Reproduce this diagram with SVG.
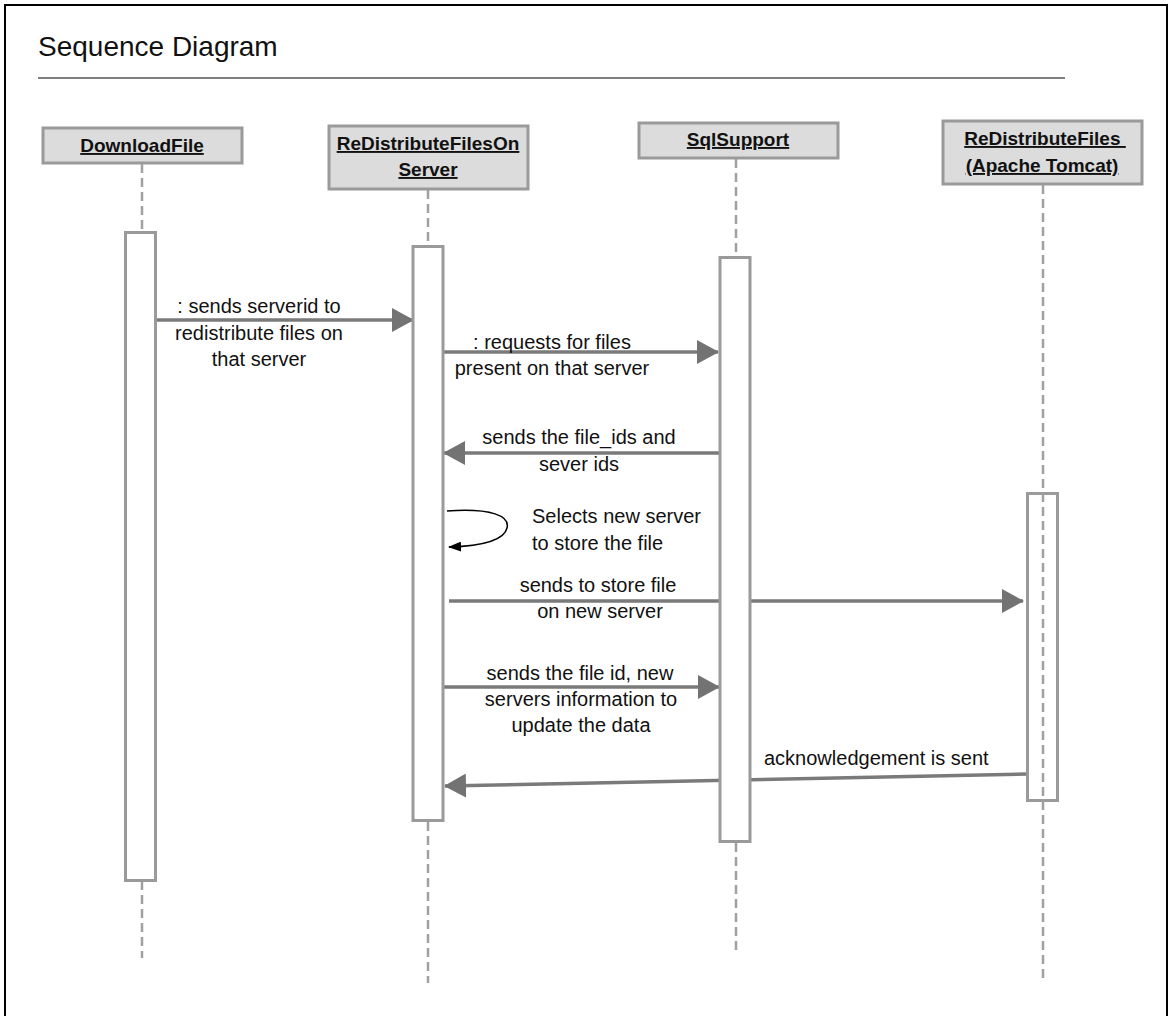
<svg xmlns="http://www.w3.org/2000/svg" width="1173" height="1016" viewBox="0 0 1173 1016">
<style>
.frame{fill:none;stroke:#000;stroke-width:2}
.title{font-family:"Liberation Sans",Arial,sans-serif;font-size:28px;fill:#111}
.head{fill:#dcdcdc;stroke:#9a9a9a;stroke-width:3}
.htxt{font-family:"Liberation Sans",Arial,sans-serif;font-size:19px;font-weight:bold;fill:#111;text-anchor:middle;text-decoration:underline}
.life{stroke:#a0a0a0;stroke-width:2.5;stroke-dasharray:9,5;fill:none}
.act{fill:#fff;stroke:#9a9a9a;stroke-width:3}
.msg{stroke:#7a7a7a;stroke-width:3.5;fill:none}
.lbl{font-family:"Liberation Sans",Arial,sans-serif;font-size:20px;fill:#111}
.mid{text-anchor:middle}
</style>
<defs>
<marker id="arr" markerUnits="userSpaceOnUse" viewBox="0 0 22 24" refX="21" refY="12" markerWidth="22" markerHeight="24" orient="auto">
<path d="M0,0 L22,12 L0,24 z" fill="#737373"/>
</marker>
<marker id="arrs" markerUnits="userSpaceOnUse" viewBox="0 0 13 10" refX="12" refY="5" markerWidth="13" markerHeight="10" orient="auto">
<path d="M0,0 L13,5 L0,10 z" fill="#000"/>
</marker>
</defs>
<rect width="1173" height="1016" fill="#fff"/>
<path class="frame" d="M5,1020 V5 H1167 V1020"/>
<text class="title" x="38" y="56">Sequence Diagram</text>
<line x1="38" y1="78" x2="1065" y2="78" stroke="#555" stroke-width="1.5"/>

<g id="connectors">
<line class="msg" x1="156" y1="320" x2="413" y2="320" marker-end="url(#arr)"/>
<line class="msg" x1="443" y1="352" x2="718" y2="352" marker-end="url(#arr)"/>
<line class="msg" x1="719" y1="453" x2="444" y2="453" marker-end="url(#arr)"/>
<path d="M447,511 C492,508 510,516 507,528 C504,541 482,546 449,547" fill="none" stroke="#000" stroke-width="1.5" marker-end="url(#arrs)"/>
<line class="msg" x1="449" y1="601" x2="1023" y2="601" marker-end="url(#arr)"/>
<line class="msg" x1="443" y1="687" x2="719" y2="687" marker-end="url(#arr)"/>
<line class="msg" x1="1027" y1="774" x2="445" y2="786" marker-end="url(#arr)"/>
<text class="lbl mid"><tspan x="259" y="313">: sends serverid to</tspan><tspan x="259" y="340">redistribute files on</tspan><tspan x="259" y="366">that server</tspan></text>
<text class="lbl mid"><tspan x="552" y="349">: requests for files</tspan><tspan x="552" y="375">present on that server</tspan></text>
<text class="lbl mid"><tspan x="579" y="444">sends the file_ids and</tspan><tspan x="579" y="471">sever ids</tspan></text>
<text class="lbl"><tspan x="532" y="523">Selects new server</tspan><tspan x="532" y="550">to store the file</tspan></text>
<text class="lbl mid"><tspan x="598" y="592">sends to store file</tspan><tspan x="600" y="618">on new server</tspan></text>
<text class="lbl mid"><tspan x="580" y="680">sends the file id, new</tspan><tspan x="581" y="706">servers information to</tspan><tspan x="581" y="732">update the data</tspan></text>
<text class="lbl" x="764" y="765">acknowledgement is sent</text>
</g>

<g id="node-downloadfile">
<rect class="head" x="43" y="128" width="199" height="35"/>
<text class="htxt" x="142" y="152">DownloadFile</text>
<line class="life" x1="142" y1="164" x2="142" y2="232"/>
<line class="life" x1="142" y1="881" x2="142" y2="958"/>
<rect class="act" x="125.5" y="232.5" width="30" height="648"/>
</g>

<g id="node-redistributefilesonserver">
<rect class="head" x="329" y="126" width="199" height="63"/>
<text class="htxt" x="428" y="150">ReDistributeFilesOn</text>
<text class="htxt" x="428" y="176">Server</text>
<line class="life" x1="428" y1="190" x2="428" y2="246"/>
<line class="life" x1="428" y1="822" x2="428" y2="983"/>
<rect class="act" x="413" y="246.5" width="30" height="574"/>
</g>

<g id="node-sqlsupport">
<rect class="head" x="639" y="123" width="199" height="35"/>
<text class="htxt" x="738" y="146">SqlSupport</text>
<line class="life" x1="736" y1="159" x2="736" y2="257"/>
<line class="life" x1="736" y1="843" x2="736" y2="952"/>
<rect class="act" x="720" y="257.5" width="30" height="584"/>
</g>

<g id="node-redistributefiles">
<rect class="head" x="943" y="121" width="199" height="63"/>
<text class="htxt" x="1045" y="145" xml:space="preserve">ReDistributeFiles </text>
<text class="htxt" x="1042" y="172">(Apache Tomcat)</text>
<rect class="act" x="1027.5" y="493.5" width="30" height="307"/>
<line class="life" x1="1043" y1="185" x2="1043" y2="978"/>
</g>
</svg>
